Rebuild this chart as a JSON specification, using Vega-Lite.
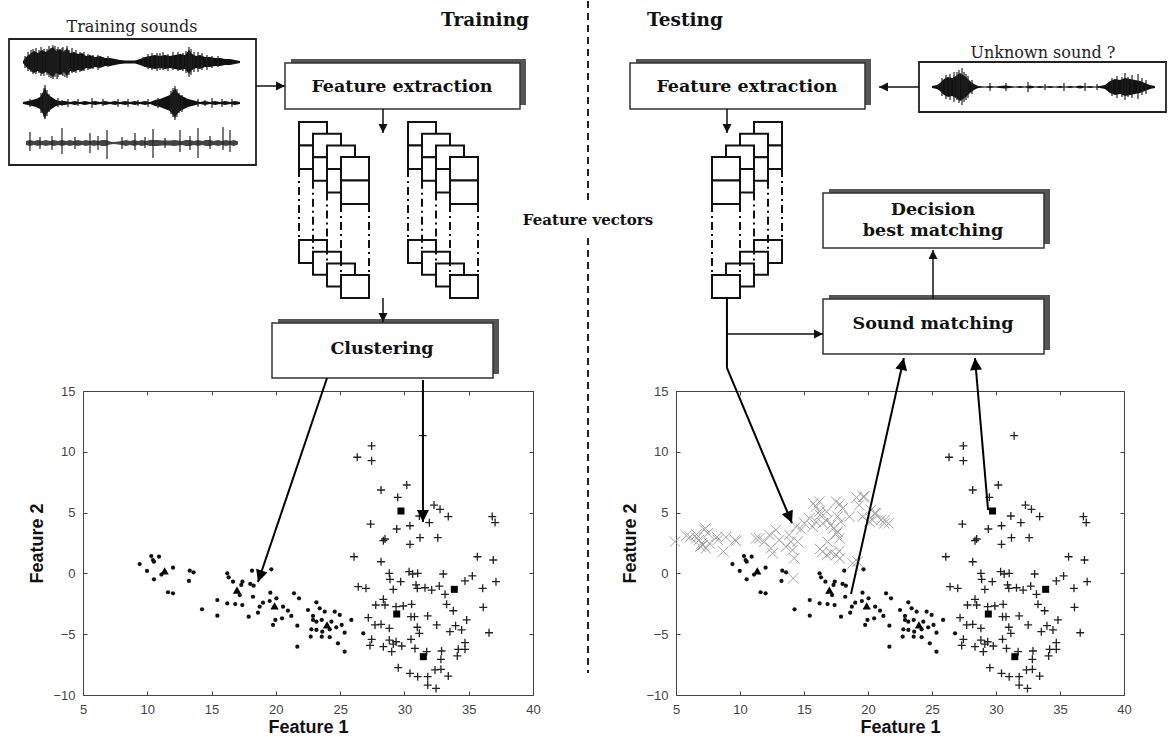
{
"$schema": "https://vega.github.io/schema/vega-lite/v6.json",
"padding": 0,
"background": "white",
"bounds": "flush",
"spacing": 0,
"config": {"view": {"stroke": null}},
"datasets": {
"frames": [{"x":9,"x2":256,"y":39,"y2":165},{"x":919,"x2":1166,"y":62,"y2":112}],
"boxes": [{"x":285,"x2":520,"y":63,"y2":109},{"x":272,"x2":493,"y":323,"y2":378},{"x":630,"x2":865,"y":63,"y2":109},{"x":823,"x2":1044,"y":193,"y2":248},{"x":823,"x2":1044,"y":299,"y2":354}],
"waves": [
{"w":"a","x":23,"y":61,"y2":63},{"w":"a","x":26,"y":57,"y2":67},{"w":"a","x":30,"y":54,"y2":70},{"w":"a","x":34,"y":51,"y2":73},{"w":"a","x":38,"y":53,"y2":71},{"w":"a","x":42,"y":50,"y2":74},{"w":"a","x":46,"y":52,"y2":72},{"w":"a","x":50,"y":49,"y2":75},{"w":"a","x":53,"y":47,"y2":77},{"w":"a","x":56,"y":51,"y2":73},{"w":"a","x":60,"y":49,"y2":75},{"w":"a","x":64,"y":52,"y2":72},{"w":"a","x":67,"y":48,"y2":76},{"w":"a","x":70,"y":53,"y2":71},{"w":"a","x":74,"y":52,"y2":72},{"w":"a","x":78,"y":54,"y2":70},{"w":"a","x":82,"y":53,"y2":71},{"w":"a","x":86,"y":56,"y2":68},{"w":"a","x":90,"y":55,"y2":69},{"w":"a","x":95,"y":57,"y2":67},{"w":"a","x":100,"y":56,"y2":68},{"w":"a","x":105,"y":58,"y2":66},{"w":"a","x":110,"y":58,"y2":66},{"w":"a","x":115,"y":59,"y2":65},{"w":"a","x":120,"y":60,"y2":64},{"w":"a","x":125,"y":60.5,"y2":63.5},{"w":"a","x":130,"y":60.5,"y2":63.5},{"w":"a","x":135,"y":60.5,"y2":63.5},{"w":"a","x":140,"y":59,"y2":65},{"w":"a","x":145,"y":57,"y2":67},{"w":"a","x":150,"y":56,"y2":68},{"w":"a","x":155,"y":55,"y2":69},{"w":"a","x":160,"y":56,"y2":68},{"w":"a","x":165,"y":55,"y2":69},{"w":"a","x":170,"y":56,"y2":68},{"w":"a","x":175,"y":55,"y2":69},{"w":"a","x":180,"y":54,"y2":70},{"w":"a","x":185,"y":55,"y2":69},{"w":"a","x":189,"y":50,"y2":74},{"w":"a","x":192,"y":54,"y2":70},{"w":"a","x":196,"y":56,"y2":68},{"w":"a","x":200,"y":55,"y2":69},{"w":"a","x":205,"y":57,"y2":67},{"w":"a","x":210,"y":57,"y2":67},{"w":"a","x":215,"y":58,"y2":66},{"w":"a","x":220,"y":58,"y2":66},{"w":"a","x":225,"y":59,"y2":65},{"w":"a","x":230,"y":59,"y2":65},{"w":"a","x":235,"y":60,"y2":64},{"w":"a","x":240,"y":61,"y2":63},
{"w":"b","x":23,"y":102,"y2":104},{"w":"b","x":28,"y":101,"y2":105},{"w":"b","x":32,"y":100,"y2":106},{"w":"b","x":36,"y":99,"y2":107},{"w":"b","x":40,"y":97,"y2":109},{"w":"b","x":43,"y":92,"y2":114},{"w":"b","x":45,"y":87,"y2":119},{"w":"b","x":47,"y":93,"y2":113},{"w":"b","x":50,"y":96,"y2":110},{"w":"b","x":53,"y":98,"y2":108},{"w":"b","x":56,"y":100,"y2":106},{"w":"b","x":60,"y":101,"y2":105},{"w":"b","x":65,"y":101,"y2":105},{"w":"b","x":70,"y":102,"y2":104},{"w":"b","x":75,"y":101,"y2":105},{"w":"b","x":80,"y":102,"y2":104},{"w":"b","x":85,"y":101,"y2":105},{"w":"b","x":90,"y":102,"y2":104},{"w":"b","x":95,"y":101,"y2":105},{"w":"b","x":100,"y":102,"y2":104},{"w":"b","x":105,"y":101,"y2":105},{"w":"b","x":110,"y":102,"y2":104},{"w":"b","x":115,"y":101,"y2":105},{"w":"b","x":120,"y":102,"y2":104},{"w":"b","x":125,"y":101,"y2":105},{"w":"b","x":130,"y":102,"y2":104},{"w":"b","x":135,"y":101,"y2":105},{"w":"b","x":140,"y":102,"y2":104},{"w":"b","x":145,"y":101,"y2":105},{"w":"b","x":150,"y":102,"y2":104},{"w":"b","x":155,"y":100,"y2":106},{"w":"b","x":160,"y":99,"y2":107},{"w":"b","x":165,"y":97,"y2":109},{"w":"b","x":170,"y":95,"y2":111},{"w":"b","x":173,"y":91,"y2":115},{"w":"b","x":175,"y":88,"y2":118},{"w":"b","x":177,"y":92,"y2":114},{"w":"b","x":180,"y":95,"y2":111},{"w":"b","x":184,"y":97,"y2":109},{"w":"b","x":188,"y":99,"y2":107},{"w":"b","x":192,"y":100,"y2":106},{"w":"b","x":196,"y":101,"y2":105},{"w":"b","x":200,"y":102,"y2":104},{"w":"b","x":205,"y":101,"y2":105},{"w":"b","x":210,"y":102,"y2":104},{"w":"b","x":215,"y":101,"y2":105},{"w":"b","x":220,"y":102,"y2":104},{"w":"b","x":225,"y":101,"y2":105},{"w":"b","x":230,"y":102,"y2":104},{"w":"b","x":235,"y":101,"y2":105},{"w":"b","x":240,"y":102,"y2":104},
{"w":"c","x":26,"y":141,"y2":145},{"w":"c","x":30,"y":140,"y2":146},{"w":"c","x":34,"y":141,"y2":145},{"w":"c","x":38,"y":140,"y2":146},{"w":"c","x":42,"y":141,"y2":145},{"w":"c","x":46,"y":140,"y2":146},{"w":"c","x":50,"y":141,"y2":145},{"w":"c","x":54,"y":140,"y2":146},{"w":"c","x":58,"y":141,"y2":145},{"w":"c","x":62,"y":140,"y2":146},{"w":"c","x":66,"y":141,"y2":145},{"w":"c","x":70,"y":140,"y2":146},{"w":"c","x":74,"y":141,"y2":145},{"w":"c","x":78,"y":140,"y2":146},{"w":"c","x":82,"y":141,"y2":145},{"w":"c","x":86,"y":140,"y2":146},{"w":"c","x":90,"y":141,"y2":145},{"w":"c","x":94,"y":140,"y2":146},{"w":"c","x":98,"y":141,"y2":145},{"w":"c","x":102,"y":140,"y2":146},{"w":"c","x":106,"y":140,"y2":146},{"w":"c","x":110,"y":141.5,"y2":144.5},{"w":"c","x":114,"y":142,"y2":144},{"w":"c","x":118,"y":141.5,"y2":144.5},{"w":"c","x":122,"y":141,"y2":145},{"w":"c","x":126,"y":140,"y2":146},{"w":"c","x":130,"y":141,"y2":145},{"w":"c","x":134,"y":140,"y2":146},{"w":"c","x":138,"y":141,"y2":145},{"w":"c","x":142,"y":140,"y2":146},{"w":"c","x":146,"y":141,"y2":145},{"w":"c","x":150,"y":140,"y2":146},{"w":"c","x":154,"y":140,"y2":146},{"w":"c","x":158,"y":140,"y2":146},{"w":"c","x":162,"y":140.5,"y2":145.5},{"w":"c","x":166,"y":140.5,"y2":145.5},{"w":"c","x":170,"y":140.5,"y2":145.5},{"w":"c","x":174,"y":140,"y2":146},{"w":"c","x":178,"y":140.5,"y2":145.5},{"w":"c","x":182,"y":141,"y2":145},{"w":"c","x":186,"y":140,"y2":146},{"w":"c","x":190,"y":140,"y2":146},{"w":"c","x":194,"y":141,"y2":145},{"w":"c","x":198,"y":140,"y2":146},{"w":"c","x":202,"y":141,"y2":145},{"w":"c","x":206,"y":140,"y2":146},{"w":"c","x":210,"y":140,"y2":146},{"w":"c","x":214,"y":141,"y2":145},{"w":"c","x":218,"y":140,"y2":146},{"w":"c","x":222,"y":141,"y2":145},{"w":"c","x":226,"y":140,"y2":146},{"w":"c","x":230,"y":141,"y2":145},{"w":"c","x":234,"y":140,"y2":146},{"w":"c","x":238,"y":141.5,"y2":144.5},
{"w":"u","x":932,"y":86,"y2":88},{"w":"u","x":937,"y":85,"y2":89},{"w":"u","x":940,"y":83,"y2":91},{"w":"u","x":944,"y":79,"y2":95},{"w":"u","x":948,"y":77,"y2":97},{"w":"u","x":952,"y":78,"y2":96},{"w":"u","x":956,"y":76,"y2":98},{"w":"u","x":960,"y":73,"y2":101},{"w":"u","x":963,"y":75,"y2":99},{"w":"u","x":966,"y":77,"y2":97},{"w":"u","x":970,"y":81,"y2":93},{"w":"u","x":974,"y":84,"y2":90},{"w":"u","x":978,"y":86,"y2":88},{"w":"u","x":985,"y":86.5,"y2":87.5},{"w":"u","x":990,"y":86,"y2":88},{"w":"u","x":995,"y":86.5,"y2":87.5},{"w":"u","x":1000,"y":86,"y2":88},{"w":"u","x":1005,"y":85.5,"y2":88.5},{"w":"u","x":1010,"y":86,"y2":88},{"w":"u","x":1015,"y":86.5,"y2":87.5},{"w":"u","x":1020,"y":86,"y2":88},{"w":"u","x":1025,"y":86.5,"y2":87.5},{"w":"u","x":1030,"y":85.5,"y2":88.5},{"w":"u","x":1035,"y":86.5,"y2":87.5},{"w":"u","x":1040,"y":86,"y2":88},{"w":"u","x":1045,"y":86.5,"y2":87.5},{"w":"u","x":1050,"y":86,"y2":88},{"w":"u","x":1055,"y":86.5,"y2":87.5},{"w":"u","x":1060,"y":86,"y2":88},{"w":"u","x":1065,"y":86.5,"y2":87.5},{"w":"u","x":1070,"y":86,"y2":88},{"w":"u","x":1075,"y":86.5,"y2":87.5},{"w":"u","x":1080,"y":85.5,"y2":88.5},{"w":"u","x":1085,"y":86.5,"y2":87.5},{"w":"u","x":1090,"y":86,"y2":88},{"w":"u","x":1095,"y":86.5,"y2":87.5},{"w":"u","x":1100,"y":86,"y2":88},{"w":"u","x":1105,"y":85,"y2":89},{"w":"u","x":1110,"y":81,"y2":93},{"w":"u","x":1115,"y":79,"y2":95},{"w":"u","x":1120,"y":80,"y2":94},{"w":"u","x":1125,"y":78,"y2":96},{"w":"u","x":1130,"y":79,"y2":95},{"w":"u","x":1135,"y":80,"y2":94},{"w":"u","x":1140,"y":81,"y2":93},{"w":"u","x":1145,"y":83,"y2":91},{"w":"u","x":1150,"y":85,"y2":89},{"w":"u","x":1155,"y":86,"y2":88}
],
"spikes": [
{"x":25,"y":56,"y2":68},{"x":28,"y":52,"y2":71},{"x":31,"y":50,"y2":72},{"x":33,"y":49,"y2":74},{"x":36,"y":48,"y2":74},{"x":39,"y":50,"y2":73},{"x":41,"y":47,"y2":76},{"x":44,"y":49,"y2":76},{"x":47,"y":49,"y2":75},{"x":49,"y":46,"y2":77},{"x":51,"y":48,"y2":78},{"x":53,"y":45,"y2":79},{"x":55,"y":46,"y2":77},{"x":57,"y":49,"y2":79},{"x":58,"y":47,"y2":77},{"x":62,"y":48,"y2":75},{"x":63,"y":47,"y2":76},{"x":65,"y":50,"y2":77},{"x":67,"y":46,"y2":78},{"x":69,"y":50,"y2":75},{"x":72,"y":48,"y2":73},{"x":76,"y":50,"y2":73},{"x":80,"y":52,"y2":72},{"x":84,"y":52,"y2":71},{"x":88,"y":54,"y2":70},{"x":93,"y":55,"y2":69},{"x":98,"y":55,"y2":70},{"x":103,"y":57,"y2":67},{"x":108,"y":56,"y2":67},{"x":143,"y":57,"y2":66},{"x":148,"y":54,"y2":69},{"x":152,"y":53,"y2":70},{"x":157,"y":53,"y2":71},{"x":160,"y":53,"y2":70},{"x":163,"y":52,"y2":70},{"x":168,"y":54,"y2":71},{"x":173,"y":52,"y2":70},{"x":178,"y":52,"y2":71},{"x":183,"y":53,"y2":71},{"x":186,"y":51,"y2":73},{"x":189,"y":47,"y2":77},{"x":191,"y":49,"y2":75},{"x":194,"y":52,"y2":72},{"x":198,"y":52,"y2":72},{"x":202,"y":53,"y2":70},{"x":207,"y":55,"y2":70},{"x":212,"y":56,"y2":68},{"x":218,"y":56,"y2":67},
{"x":41,"y":93,"y2":113},{"x":44,"y":88,"y2":117},{"x":45,"y":85,"y2":119},{"x":47,"y":90,"y2":116},{"x":49,"y":94,"y2":112},{"x":171,"y":91,"y2":114},{"x":173,"y":88,"y2":117},{"x":175,"y":86,"y2":120},{"x":177,"y":89,"y2":117},{"x":179,"y":93,"y2":113},{"x":182,"y":95,"y2":112},{"x":30,"y":99,"y2":107},{"x":58,"y":98,"y2":107},{"x":62,"y":100,"y2":106},{"x":68,"y":99,"y2":107},{"x":78,"y":99,"y2":106},{"x":92,"y":98,"y2":108},{"x":103,"y":99,"y2":106},{"x":118,"y":99,"y2":107},{"x":128,"y":99,"y2":107},{"x":138,"y":100,"y2":106},{"x":148,"y":99,"y2":107},{"x":158,"y":98,"y2":108},{"x":198,"y":99,"y2":107},{"x":205,"y":100,"y2":106},{"x":212,"y":98,"y2":108},{"x":222,"y":99,"y2":107},{"x":232,"y":99,"y2":107},
{"x":30,"y":132,"y2":151},{"x":40,"y":137,"y2":149},{"x":52,"y":136,"y2":150},{"x":62,"y":128,"y2":154},{"x":75,"y":137,"y2":149},{"x":90,"y":133,"y2":153},{"x":98,"y":136,"y2":150},{"x":107,"y":130,"y2":159},{"x":122,"y":137,"y2":149},{"x":135,"y":133,"y2":150},{"x":145,"y":137,"y2":148},{"x":153,"y":129,"y2":158},{"x":165,"y":138,"y2":148},{"x":180,"y":130,"y2":152},{"x":190,"y":136,"y2":150},{"x":198,"y":128,"y2":158},{"x":210,"y":136,"y2":149},{"x":223,"y":127,"y2":150},{"x":230,"y":130,"y2":152},
{"x":942,"y":78,"y2":96},{"x":946,"y":75,"y2":99},{"x":950,"y":74,"y2":100},{"x":954,"y":72,"y2":102},{"x":957,"y":72,"y2":100},{"x":959,"y":70,"y2":103},{"x":962,"y":68,"y2":105},{"x":964,"y":72,"y2":102},{"x":966,"y":74,"y2":100},{"x":968,"y":76,"y2":98},{"x":972,"y":80,"y2":94},{"x":990,"y":83,"y2":91},{"x":1006,"y":83,"y2":91},{"x":1028,"y":82,"y2":92},{"x":1045,"y":84,"y2":90},{"x":1064,"y":83,"y2":91},{"x":1085,"y":83,"y2":91},{"x":1097,"y":84,"y2":90},{"x":1112,"y":78,"y2":96},{"x":1117,"y":76,"y2":98},{"x":1122,"y":77,"y2":97},{"x":1125,"y":73,"y2":100},{"x":1128,"y":77,"y2":97},{"x":1132,"y":75,"y2":98},{"x":1138,"y":74,"y2":99},{"x":1142,"y":78,"y2":95},{"x":1146,"y":80,"y2":94}
],
"cells": [
{"x":299,"x2":327,"y":122,"y2":145.5},{"x":299,"x2":327,"y":145.5,"y2":169},{"x":299,"x2":327,"y":240,"y2":263},
{"x":313,"x2":341,"y":133.7,"y2":157.2},{"x":313,"x2":341,"y":157.2,"y2":180.7},{"x":313,"x2":341,"y":251.7,"y2":274.7},
{"x":327,"x2":355,"y":145.4,"y2":168.9},{"x":327,"x2":355,"y":168.9,"y2":192.4},{"x":327,"x2":355,"y":263.4,"y2":286.4},
{"x":341,"x2":369,"y":157.1,"y2":180.6},{"x":341,"x2":369,"y":180.6,"y2":204.1},{"x":341,"x2":369,"y":275.1,"y2":298.1},
{"x":408,"x2":436,"y":122,"y2":145.5},{"x":408,"x2":436,"y":145.5,"y2":169},{"x":408,"x2":436,"y":240,"y2":263},
{"x":422,"x2":450,"y":133.7,"y2":157.2},{"x":422,"x2":450,"y":157.2,"y2":180.7},{"x":422,"x2":450,"y":251.7,"y2":274.7},
{"x":436,"x2":464,"y":145.4,"y2":168.9},{"x":436,"x2":464,"y":168.9,"y2":192.4},{"x":436,"x2":464,"y":263.4,"y2":286.4},
{"x":450,"x2":478,"y":157.1,"y2":180.6},{"x":450,"x2":478,"y":180.6,"y2":204.1},{"x":450,"x2":478,"y":275.1,"y2":298.1},
{"x":754,"x2":782,"y":122,"y2":145.5},{"x":754,"x2":782,"y":145.5,"y2":169},{"x":754,"x2":782,"y":240,"y2":263},
{"x":740,"x2":768,"y":133.7,"y2":157.2},{"x":740,"x2":768,"y":157.2,"y2":180.7},{"x":740,"x2":768,"y":251.7,"y2":274.7},
{"x":726,"x2":754,"y":145.4,"y2":168.9},{"x":726,"x2":754,"y":168.9,"y2":192.4},{"x":726,"x2":754,"y":263.4,"y2":286.4},
{"x":712,"x2":740,"y":157.1,"y2":180.6},{"x":712,"x2":740,"y":180.6,"y2":204.1},{"x":712,"x2":740,"y":275.1,"y2":298.1}
],
"cellEdges": [
{"x":299,"y":169,"y2":240},{"x":313,"y":180.7,"y2":251.7},{"x":327,"y":192.4,"y2":263.4},{"x":341,"y":204.1,"y2":275.1},{"x":369,"y":204.1,"y2":275.1},
{"x":408,"y":169,"y2":240},{"x":422,"y":180.7,"y2":251.7},{"x":436,"y":192.4,"y2":263.4},{"x":450,"y":204.1,"y2":275.1},{"x":478,"y":204.1,"y2":275.1},
{"x":782,"y":169,"y2":240},{"x":768,"y":180.7,"y2":251.7},{"x":754,"y":192.4,"y2":263.4},{"x":740,"y":204.1,"y2":275.1},{"x":712,"y":204.1,"y2":275.1}
],
"links": [{"x":256,"y":86,"x2":285,"y2":86},{"x":383,"y":109,"x2":383,"y2":133},{"x":383,"y":298,"x2":383,"y2":322},{"x":879,"y":87,"x2":919,"y2":87},{"x":727,"y":109,"x2":727,"y2":133},{"x":727,"y":334,"x2":823,"y2":334},{"x":933,"y":299,"x2":933,"y2":250}],
"heads": [{"x":285,"y":86,"a":90},{"x":383,"y":133,"a":180},{"x":383,"y":322,"a":180},{"x":879,"y":87,"a":270},{"x":727,"y":133,"a":180},{"x":823,"y":334,"a":90},{"x":933,"y":250,"a":0}],
"divider": [{"x":588,"y":1,"y2":200},{"x":588,"y":238,"y2":673}],
"labels": [
{"x":132,"y":27,"t":"Training sounds","k":"s"},{"x":1043,"y":53,"t":"Unknown sound ?","k":"s"},
{"x":485,"y":20,"t":"Training","k":"h"},{"x":685,"y":20,"t":"Testing","k":"h"},
{"x":402,"y":87,"t":"Feature extraction","k":"b"},{"x":747,"y":87,"t":"Feature extraction","k":"b"},{"x":382,"y":349,"t":"Clustering","k":"b"},{"x":933,"y":210,"t":"Decision","k":"b"},{"x":933,"y":231,"t":"best matching","k":"b"},{"x":933,"y":324,"t":"Sound matching","k":"b"},
{"x":588,"y":220,"t":"Feature vectors","k":"v"}
],
"pts": [
{"k":"d","f1":9.41,"f2":0.77},{"k":"d","f1":10.31,"f2":1.43},{"k":"d","f1":10.44,"f2":1.1},{"k":"d","f1":10.52,"f2":0.96},{"k":"d","f1":10.91,"f2":1.37},{"k":"d","f1":9.98,"f2":0.2},{"k":"d","f1":10.52,"f2":-0.49},{"k":"d","f1":12.0,"f2":0.47},{"k":"d","f1":11.61,"f2":-1.55},{"k":"d","f1":12.0,"f2":-1.64},{"k":"d","f1":13.3,"f2":0.22},{"k":"d","f1":13.6,"f2":0.09},{"k":"d","f1":13.24,"f2":-0.62},{"k":"d","f1":14.26,"f2":-2.95},{"k":"d","f1":15.45,"f2":-2.19},{"k":"d","f1":15.45,"f2":-3.48},{"k":"d","f1":16.22,"f2":0.01},{"k":"d","f1":16.33,"f2":-0.32},{"k":"d","f1":16.67,"f2":-0.68},{"k":"d","f1":17.4,"f2":-0.68},{"k":"d","f1":17.31,"f2":-0.95},{"k":"d","f1":18.01,"f2":-0.87},{"k":"d","f1":18.27,"f2":-1.01},{"k":"d","f1":18.14,"f2":0.22},{"k":"d","f1":19.65,"f2":0.34},{"k":"d","f1":17.19,"f2":-1.78},{"k":"d","f1":16.22,"f2":-2.47},{"k":"d","f1":16.84,"f2":-2.52},{"k":"d","f1":17.39,"f2":-2.6},{"k":"d","f1":18.22,"f2":-1.92},{"k":"d","f1":19.0,"f2":-2.41},{"k":"d","f1":18.74,"f2":-2.74},{"k":"d","f1":18.61,"f2":-3.23},{"k":"d","f1":17.89,"f2":-3.56},{"k":"d","f1":19.57,"f2":-1.59},{"k":"d","f1":19.52,"f2":-2.27},{"k":"d","f1":20.04,"f2":-2.05},{"k":"d","f1":20.56,"f2":-2.74},{"k":"d","f1":20.94,"f2":-3.07},{"k":"d","f1":21.2,"f2":-3.5},{"k":"d","f1":19.96,"f2":-3.83},{"k":"d","f1":20.48,"f2":-3.69},{"k":"d","f1":19.78,"f2":-4.24},{"k":"d","f1":21.41,"f2":-1.64},{"k":"d","f1":21.8,"f2":-2.05},{"k":"d","f1":21.67,"f2":-4.3},{"k":"d","f1":21.67,"f2":-6.03},{"k":"d","f1":22.5,"f2":-3.01},{"k":"d","f1":23.15,"f2":-2.38},{"k":"d","f1":22.89,"f2":-3.5},{"k":"d","f1":23.41,"f2":-2.87},{"k":"d","f1":23.8,"f2":-3.15},{"k":"d","f1":24.58,"f2":-3.15},{"k":"d","f1":24.97,"f2":-3.42},{"k":"d","f1":22.89,"f2":-3.83},{"k":"d","f1":23.15,"f2":-3.97},{"k":"d","f1":23.57,"f2":-3.83},{"k":"d","f1":24.32,"f2":-3.97},{"k":"d","f1":25.12,"f2":-4.24},{"k":"d","f1":22.76,"f2":-4.6},{"k":"d","f1":23.15,"f2":-4.65},{"k":"d","f1":23.61,"f2":-4.79},{"k":"d","f1":24.19,"f2":-4.6},{"k":"d","f1":24.7,"f2":-4.43},{"k":"d","f1":22.71,"f2":-5.2},{"k":"d","f1":23.57,"f2":-5.2},{"k":"d","f1":24.19,"f2":-5.25},{"k":"d","f1":24.83,"f2":-5.75},{"k":"d","f1":25.35,"f2":-6.44},{"k":"d","f1":25.35,"f2":-4.88},{"k":"d","f1":25.87,"f2":-3.83},{"k":"d","f1":26.8,"f2":-4.93},{"k":"d","f1":11.1,"f2":-0.1},
{"k":"p","f1":27.45,"f2":10.48},{"k":"p","f1":26.33,"f2":9.55},{"k":"p","f1":27.45,"f2":9.27},{"k":"p","f1":31.42,"f2":11.33},{"k":"p","f1":28.18,"f2":6.86},{"k":"p","f1":30.18,"f2":7.27},{"k":"p","f1":29.48,"f2":6.26},{"k":"p","f1":32.3,"f2":5.62},{"k":"p","f1":32.77,"f2":5.27},{"k":"p","f1":33.41,"f2":4.67},{"k":"p","f1":31.16,"f2":4.72},{"k":"p","f1":31.94,"f2":4.17},{"k":"p","f1":27.37,"f2":4.06},{"k":"p","f1":29.4,"f2":3.65},{"k":"p","f1":30.43,"f2":3.92},{"k":"p","f1":36.83,"f2":4.67},{"k":"p","f1":37.05,"f2":4.18},{"k":"p","f1":28.36,"f2":2.69},{"k":"p","f1":28.49,"f2":2.83},{"k":"p","f1":30.43,"f2":2.39},{"k":"p","f1":31.21,"f2":2.94},{"k":"p","f1":32.59,"f2":2.94},{"k":"p","f1":26.08,"f2":1.37},{"k":"p","f1":28.18,"f2":0.96},{"k":"p","f1":35.67,"f2":1.37},{"k":"p","f1":36.91,"f2":1.1},{"k":"p","f1":28.82,"f2":0.01},{"k":"p","f1":28.88,"f2":-0.49},{"k":"p","f1":30.36,"f2":0.14},{"k":"p","f1":30.64,"f2":-0.05},{"k":"p","f1":31.03,"f2":0.01},{"k":"p","f1":29.71,"f2":-0.68},{"k":"p","f1":33.02,"f2":-0.05},{"k":"p","f1":26.41,"f2":-1.09},{"k":"p","f1":27.01,"f2":-1.23},{"k":"p","f1":29.13,"f2":-1.32},{"k":"p","f1":30.9,"f2":-0.95},{"k":"p","f1":31.0,"f2":-1.23},{"k":"p","f1":31.6,"f2":-1.18},{"k":"p","f1":32.12,"f2":-1.37},{"k":"p","f1":32.71,"f2":-1.04},{"k":"p","f1":33.16,"f2":-1.72},{"k":"p","f1":34.71,"f2":-0.62},{"k":"p","f1":35.28,"f2":-0.21},{"k":"p","f1":36.09,"f2":-1.23},{"k":"p","f1":37.12,"f2":-0.68},{"k":"p","f1":28.36,"f2":-2.13},{"k":"p","f1":27.77,"f2":-2.6},{"k":"p","f1":28.49,"f2":-2.6},{"k":"p","f1":29.35,"f2":-2.74},{"k":"p","f1":29.91,"f2":-2.68},{"k":"p","f1":30.56,"f2":-2.54},{"k":"p","f1":33.28,"f2":-2.54},{"k":"p","f1":33.8,"f2":-3.07},{"k":"p","f1":36.13,"f2":-2.79},{"k":"p","f1":27.19,"f2":-3.64},{"k":"p","f1":27.71,"f2":-4.24},{"k":"p","f1":28.18,"f2":-4.19},{"k":"p","f1":28.82,"f2":-4.52},{"k":"p","f1":30.51,"f2":-3.56},{"k":"p","f1":30.78,"f2":-3.56},{"k":"p","f1":31.81,"f2":-3.5},{"k":"p","f1":32.51,"f2":-4.24},{"k":"p","f1":31.0,"f2":-4.43},{"k":"p","f1":31.16,"f2":-4.93},{"k":"p","f1":30.51,"f2":-5.42},{"k":"p","f1":33.54,"f2":-4.79},{"k":"p","f1":33.98,"f2":-4.3},{"k":"p","f1":34.45,"f2":-4.65},{"k":"p","f1":34.84,"f2":-3.83},{"k":"p","f1":36.58,"f2":-4.88},{"k":"p","f1":27.45,"f2":-5.42},{"k":"p","f1":27.32,"f2":-5.92},{"k":"p","f1":28.36,"f2":-6.03},{"k":"p","f1":28.82,"f2":-5.48},{"k":"p","f1":29.13,"f2":-5.81},{"k":"p","f1":29.35,"f2":-5.62},{"k":"p","f1":29.01,"f2":-6.44},{"k":"p","f1":29.79,"f2":-5.97},{"k":"p","f1":30.82,"f2":-6.17},{"k":"p","f1":31.73,"f2":-6.44},{"k":"p","f1":32.89,"f2":-6.38},{"k":"p","f1":32.84,"f2":-7.07},{"k":"p","f1":34.19,"f2":-6.24},{"k":"p","f1":34.71,"f2":-5.7},{"k":"p","f1":34.11,"f2":-6.79},{"k":"p","f1":34.71,"f2":-6.24},{"k":"p","f1":29.52,"f2":-7.75},{"k":"p","f1":30.43,"f2":-8.22},{"k":"p","f1":31.03,"f2":-8.49},{"k":"p","f1":31.81,"f2":-8.49},{"k":"p","f1":32.38,"f2":-7.94},{"k":"p","f1":32.84,"f2":-7.89},{"k":"p","f1":33.41,"f2":-8.44},{"k":"p","f1":31.81,"f2":-9.18},{"k":"p","f1":32.46,"f2":-9.46},
{"k":"s","f1":29.73,"f2":5.13},{"k":"s","f1":33.88,"f2":-1.31},{"k":"s","f1":29.4,"f2":-3.34},{"k":"s","f1":31.47,"f2":-6.85},
{"k":"t","f1":11.35,"f2":0.2},{"k":"t","f1":16.98,"f2":-1.37},{"k":"t","f1":19.9,"f2":-2.68},{"k":"t","f1":23.98,"f2":-4.24}
],
"xs": [
{"f1":4.92,"f2":2.61},{"f1":5.8,"f2":3.1},{"f1":6.1,"f2":3.0},{"f1":6.6,"f2":2.9},{"f1":6.6,"f2":3.2},{"f1":6.8,"f2":2.75},{"f1":7.0,"f2":2.47},{"f1":6.9,"f2":2.2},{"f1":7.2,"f2":3.6},{"f1":7.3,"f2":3.7},{"f1":7.5,"f2":3.3},{"f1":7.1,"f2":2.33},{"f1":7.6,"f2":2.47},{"f1":7.34,"f2":2.06},{"f1":8.2,"f2":3.0},{"f1":8.26,"f2":2.75},{"f1":8.7,"f2":1.8},{"f1":8.9,"f2":2.97},{"f1":9.6,"f2":2.75},{"f1":9.7,"f2":2.66},{"f1":11.25,"f2":2.88},{"f1":11.5,"f2":2.88},{"f1":11.9,"f2":2.61},{"f1":12.3,"f2":3.16},{"f1":12.8,"f2":3.57},{"f1":12.42,"f2":2.06},{"f1":12.55,"f2":1.65},{"f1":13.07,"f2":2.75},{"f1":13.59,"f2":2.2},{"f1":13.85,"f2":3.16},{"f1":13.98,"f2":2.61},{"f1":14.5,"f2":2.61},{"f1":14.11,"f2":1.92},{"f1":14.24,"f2":1.24},{"f1":14.15,"f2":-0.41},{"f1":14.38,"f2":3.84},{"f1":14.77,"f2":3.62},{"f1":15.03,"f2":4.12},{"f1":15.42,"f2":4.53},{"f1":15.68,"f2":3.84},{"f1":15.73,"f2":5.75},{"f1":15.94,"f2":4.25},{"f1":15.94,"f2":5.49},{"f1":16.2,"f2":5.08},{"f1":16.2,"f2":5.9},{"f1":16.25,"f2":4.8},{"f1":16.46,"f2":4.12},{"f1":16.77,"f2":5.07},{"f1":16.85,"f2":4.39},{"f1":17.11,"f2":3.98},{"f1":17.5,"f2":5.9},{"f1":17.8,"f2":5.7},{"f1":17.63,"f2":4.67},{"f1":17.89,"f2":4.25},{"f1":17.63,"f2":3.43},{"f1":17.55,"f2":3.29},{"f1":17.3,"f2":3.71},{"f1":17.76,"f2":2.88},{"f1":18.02,"f2":5.35},{"f1":16.85,"f2":2.61},{"f1":16.25,"f2":2.0},{"f1":16.46,"f2":1.79},{"f1":16.77,"f2":1.5},{"f1":17.11,"f2":1.7},{"f1":17.5,"f2":1.51},{"f1":17.8,"f2":1.23},{"f1":17.76,"f2":1.84},{"f1":18.8,"f2":0.83},{"f1":19.19,"f2":0.96},{"f1":18.54,"f2":4.67},{"f1":19.11,"f2":6.24},{"f1":19.63,"f2":6.3},{"f1":19.71,"f2":6.31},{"f1":19.32,"f2":5.62},{"f1":19.58,"f2":4.67},{"f1":20.23,"f2":5.21},{"f1":20.36,"f2":4.39},{"f1":20.62,"f2":4.94},{"f1":20.52,"f2":4.94},{"f1":21.02,"f2":4.39},{"f1":21.3,"f2":4.39},{"f1":21.28,"f2":4.12},{"f1":21.6,"f2":4.12},{"f1":20.1,"f2":4.25}
],
"arrowsL": [{"f1":23.98,"f2":16.07,"g1":18.61,"g2":-0.71},{"f1":31.44,"f2":15.9,"g1":31.44,"g2":4.23}],
"headsL": [{"f1":18.61,"f2":-0.71,"a":198.7},{"f1":31.44,"f2":4.23,"a":180}],
"arrowsR": [{"f1":8.98,"f2":22.65,"g1":8.98,"g2":16.9},{"f1":8.98,"f2":16.9,"g1":14.06,"g2":4.14},{"f1":18.67,"f2":-1.69,"g1":22.8,"g2":17.71},{"f1":29.38,"f2":5.21,"g1":28.36,"g2":17.71}],
"headsR": [{"f1":14.06,"f2":4.14,"a":157.25},{"f1":22.8,"f2":17.71,"a":12.66},{"f1":28.36,"f2":17.71,"a":355.1}]
},
"vconcat": [
{
"width": 1168, "height": 391,
"encoding": {
"x": {"field":"x","type":"quantitative","scale":{"domain":[0,1168],"nice":false,"zero":false},"axis":null},
"y": {"field":"y","type":"quantitative","scale":{"domain":[0,391],"nice":false,"zero":false,"reverse":true},"axis":null}
},
"layer": [
{"data":{"name":"frames"},"mark":{"type":"rect","fill":"white","stroke":"#222","strokeWidth":1.8},"encoding":{"x2":{"field":"x2"},"y2":{"field":"y2"}}},
{"data":{"name":"waves"},"transform":[{"filter":"datum.w !== 'c'"}],"mark":{"type":"area","color":"#111","opacity":1},"encoding":{"y2":{"field":"y2"},"detail":{"field":"w"}}},
{"data":{"name":"waves"},"transform":[{"filter":"datum.w === 'c'"}],"mark":{"type":"area","color":"#444","opacity":1},"encoding":{"y2":{"field":"y2"}}},
{"data":{"name":"spikes"},"mark":{"type":"rule","color":"#222","strokeWidth":1.2},"encoding":{"y2":{"field":"y2"}}},
{"data":{"name":"boxes"},"mark":{"type":"rect","fill":"#555","xOffset":6,"x2Offset":6,"yOffset":-4,"y2Offset":-4},"encoding":{"x2":{"field":"x2"},"y2":{"field":"y2"}}},
{"data":{"name":"boxes"},"mark":{"type":"rect","fill":"white","stroke":"#333","strokeWidth":1.5},"encoding":{"x2":{"field":"x2"},"y2":{"field":"y2"}}},
{"data":{"name":"cells"},"mark":{"type":"rect","fill":"white","stroke":"#111","strokeWidth":2},"encoding":{"x2":{"field":"x2"},"y2":{"field":"y2"}}},
{"data":{"name":"cellEdges"},"mark":{"type":"rule","color":"#111","strokeWidth":2,"strokeDash":[8,4,2,4]},"encoding":{"y2":{"field":"y2"}}},
{"data":{"name":"links"},"mark":{"type":"rule","color":"#111","strokeWidth":1.5},"encoding":{"x2":{"field":"x2"},"y2":{"field":"y2"}}},
{"data":{"name":"heads"},"mark":{"type":"point","shape":"M0,0L-1,2L1,2Z","filled":true,"color":"#111","size":81,"opacity":1},"encoding":{"angle":{"field":"a","type":"quantitative","scale":null}}},
{"data":{"name":"divider"},"mark":{"type":"rule","color":"#222","strokeWidth":2,"strokeDash":[7,5]},"encoding":{"y2":{"field":"y2"}}},
{"data":{"name":"labels"},"transform":[{"filter":"datum.k === 's'"}],"mark":{"type":"text","font":"DejaVu Serif","fontSize":16,"color":"#222","align":"center","baseline":"middle"},"encoding":{"text":{"field":"t"}}},
{"data":{"name":"labels"},"transform":[{"filter":"datum.k === 'h'"}],"mark":{"type":"text","font":"DejaVu Serif","fontSize":18.5,"fontWeight":"bold","color":"#111","align":"center","baseline":"middle"},"encoding":{"text":{"field":"t"}}},
{"data":{"name":"labels"},"transform":[{"filter":"datum.k === 'b'"}],"mark":{"type":"text","font":"DejaVu Serif","fontSize":17.5,"fontWeight":"bold","color":"#111","align":"center","baseline":"middle"},"encoding":{"text":{"field":"t"}}},
{"data":{"name":"labels"},"transform":[{"filter":"datum.k === 'v'"}],"mark":{"type":"text","font":"DejaVu Serif","fontSize":15,"fontWeight":"bold","color":"#111","align":"center","baseline":"middle"},"encoding":{"text":{"field":"t"}}}
]
},
{
"hconcat": [
{"width": 83, "height": 304, "data": {"values": []}, "mark": "point"},
{
"hconcat": [
{
"width": 450, "height": 304,
"layer": [
{"data":{"name":"pts"},"transform":[{"filter":"datum.k === 'd'"}],"mark":{"type":"point","shape":"circle","filled":true,"color":"#111","size":18,"opacity":1},
"encoding":{
"x":{"field":"f1","type":"quantitative","scale":{"domain":[5,40],"nice":false,"zero":false},"axis":{"orient":"bottom","values":[5,10,15,20,25,30,35,40],"title":"Feature 1","grid":false,"domainColor":"#444","tickColor":"#444","tickSize":-4,"labelPadding":12,"labelFlush":false,"labelFont":"Liberation Sans","labelFontSize":13,"labelColor":"#444","titleFont":"Liberation Sans","titleFontSize":18,"titleFontWeight":"bold","titleColor":"#111","titlePadding":2}},
"y":{"field":"f2","type":"quantitative","scale":{"domain":[-10,15],"nice":false,"zero":false},"axis":{"orient":"left","values":[-10,-5,0,5,10,15],"title":"Feature 2","grid":false,"domainColor":"#444","tickColor":"#444","tickSize":-4,"labelPadding":12,"labelFlush":false,"labelFont":"Liberation Sans","labelFontSize":13,"labelColor":"#444","titleFont":"Liberation Sans","titleFontSize":18,"titleFontWeight":"bold","titleColor":"#111","titlePadding":6}}}},
{"data":{"name":"pts"},"transform":[{"filter":"datum.k === 'p'"}],"mark":{"type":"point","shape":"M-1,0L1,0M0,-1L0,1","filled":false,"color":"#222","strokeWidth":1.3,"size":64,"opacity":1},
"encoding":{
"x":{"field":"f1","type":"quantitative","scale":{"domain":[5,40],"nice":false,"zero":false},"axis":{"orient":"top","values":[5,10,15,20,25,30,35,40],"labels":false,"title":null,"grid":false,"domainColor":"#444","tickColor":"#444","tickSize":-4}},
"y":{"field":"f2","type":"quantitative","scale":{"domain":[-10,15],"nice":false,"zero":false},"axis":{"orient":"right","values":[-10,-5,0,5,10,15],"labels":false,"title":null,"grid":false,"domainColor":"#444","tickColor":"#444","tickSize":-4}}}},
{"data":{"name":"pts"},"transform":[{"filter":"datum.k === 's'"}],"mark":{"type":"point","shape":"square","filled":true,"color":"#000","size":49,"opacity":1},
"encoding":{"x":{"field":"f1","type":"quantitative","axis":null},"y":{"field":"f2","type":"quantitative","axis":null}}},
{"data":{"name":"pts"},"transform":[{"filter":"datum.k === 't'"}],"mark":{"type":"point","shape":"triangle-up","filled":true,"color":"#000","size":70,"opacity":1},
"encoding":{"x":{"field":"f1","type":"quantitative","axis":null},"y":{"field":"f2","type":"quantitative","axis":null}}},
{"data":{"name":"arrowsL"},"mark":{"type":"rule","color":"#000","strokeWidth":2},
"encoding":{"x":{"field":"f1","type":"quantitative","axis":null},"y":{"field":"f2","type":"quantitative","axis":null},"x2":{"field":"g1"},"y2":{"field":"g2"}}},
{"data":{"name":"headsL"},"mark":{"type":"point","shape":"M0,0L-1,2L1,2Z","filled":true,"color":"#000","size":144,"opacity":1},
"encoding":{"x":{"field":"f1","type":"quantitative","axis":null},"y":{"field":"f2","type":"quantitative","axis":null},"angle":{"field":"a","type":"quantitative","scale":null}}}
],
"resolve": {"axis": {"x":"independent","y":"independent"}}
},
{
"width": 448, "height": 304,
"layer": [
{"data":{"name":"xs"},"mark":{"type":"point","shape":"M-1,-1L1,1M-1,1L1,-1","filled":false,"color":"#a0a0a0","strokeWidth":1,"size":110,"opacity":1},
"encoding":{
"x":{"field":"f1","type":"quantitative","scale":{"domain":[5,40],"nice":false,"zero":false},"axis":{"orient":"bottom","values":[5,10,15,20,25,30,35,40],"title":"Feature 1","grid":false,"domainColor":"#444","tickColor":"#444","tickSize":-4,"labelPadding":12,"labelFlush":false,"labelFont":"Liberation Sans","labelFontSize":13,"labelColor":"#444","titleFont":"Liberation Sans","titleFontSize":18,"titleFontWeight":"bold","titleColor":"#111","titlePadding":2}},
"y":{"field":"f2","type":"quantitative","scale":{"domain":[-10,15],"nice":false,"zero":false},"axis":{"orient":"left","values":[-10,-5,0,5,10,15],"title":"Feature 2","grid":false,"domainColor":"#444","tickColor":"#444","tickSize":-4,"labelPadding":12,"labelFlush":false,"labelFont":"Liberation Sans","labelFontSize":13,"labelColor":"#444","titleFont":"Liberation Sans","titleFontSize":18,"titleFontWeight":"bold","titleColor":"#111","titlePadding":6}}}},
{"data":{"name":"pts"},"transform":[{"filter":"datum.k === 'p'"}],"mark":{"type":"point","shape":"M-1,0L1,0M0,-1L0,1","filled":false,"color":"#222","strokeWidth":1.3,"size":64,"opacity":1},
"encoding":{
"x":{"field":"f1","type":"quantitative","scale":{"domain":[5,40],"nice":false,"zero":false},"axis":{"orient":"top","values":[5,10,15,20,25,30,35,40],"labels":false,"title":null,"grid":false,"domainColor":"#444","tickColor":"#444","tickSize":-4}},
"y":{"field":"f2","type":"quantitative","scale":{"domain":[-10,15],"nice":false,"zero":false},"axis":{"orient":"right","values":[-10,-5,0,5,10,15],"labels":false,"title":null,"grid":false,"domainColor":"#444","tickColor":"#444","tickSize":-4}}}},
{"data":{"name":"pts"},"transform":[{"filter":"datum.k === 'd'"}],"mark":{"type":"point","shape":"circle","filled":true,"color":"#111","size":18,"opacity":1},
"encoding":{"x":{"field":"f1","type":"quantitative","axis":null},"y":{"field":"f2","type":"quantitative","axis":null}}},
{"data":{"name":"pts"},"transform":[{"filter":"datum.k === 's'"}],"mark":{"type":"point","shape":"square","filled":true,"color":"#000","size":49,"opacity":1},
"encoding":{"x":{"field":"f1","type":"quantitative","axis":null},"y":{"field":"f2","type":"quantitative","axis":null}}},
{"data":{"name":"pts"},"transform":[{"filter":"datum.k === 't'"}],"mark":{"type":"point","shape":"triangle-up","filled":true,"color":"#000","size":70,"opacity":1},
"encoding":{"x":{"field":"f1","type":"quantitative","axis":null},"y":{"field":"f2","type":"quantitative","axis":null}}},
{"data":{"name":"arrowsR"},"mark":{"type":"rule","color":"#000","strokeWidth":2},
"encoding":{"x":{"field":"f1","type":"quantitative","axis":null},"y":{"field":"f2","type":"quantitative","axis":null},"x2":{"field":"g1"},"y2":{"field":"g2"}}},
{"data":{"name":"headsR"},"mark":{"type":"point","shape":"M0,0L-1,2L1,2Z","filled":true,"color":"#000","size":144,"opacity":1},
"encoding":{"x":{"field":"f1","type":"quantitative","axis":null},"y":{"field":"f2","type":"quantitative","axis":null},"angle":{"field":"a","type":"quantitative","scale":null}}}
],
"resolve": {"axis": {"x":"independent","y":"independent"}}
}
],
"spacing": 143,
"bounds": "flush"
}
],
"spacing": 0,
"bounds": "flush"
}
]
}
